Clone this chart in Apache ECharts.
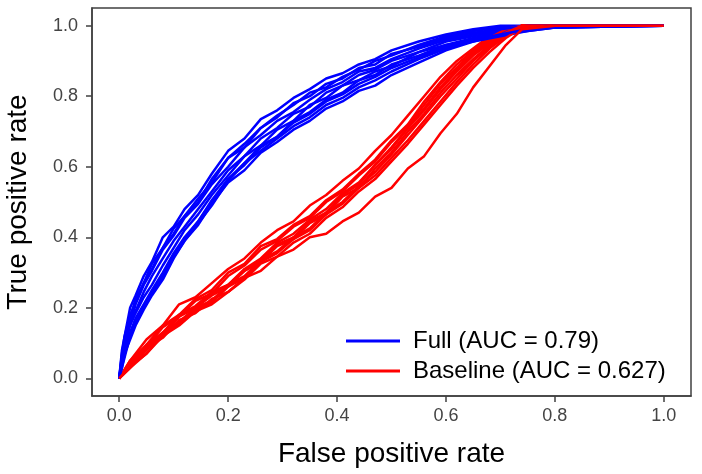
<!DOCTYPE html>
<html>
<head>
<meta charset="utf-8">
<script src="https://cdn.jsdelivr.net/npm/echarts@6/dist/echarts.min.js"></script>
<style>
html,body{margin:0;padding:0;background:#fff;}
#chart{width:702px;height:474px;}
</style>
</head>
<body>
<div id="chart"></div>
<script>
// ---- data ----
var tickValues = [0, 0.2, 0.4, 0.6, 0.8, 1.0];
var fullName = 'Full (AUC = 0.79)';
var baseName = 'Baseline (AUC = 0.627)';

var blueFpr = [0, 0.005, 0.01, 0.02, 0.03, 0.045, 0.06, 0.08, 0.1, 0.12, 0.145, 0.17, 0.2, 0.23, 0.26, 0.29, 0.32, 0.35, 0.38, 0.41, 0.44, 0.47, 0.5, 0.55, 0.6, 0.65, 0.7, 0.75, 0.8, 1.0];
var blueRuns = [
  [0, .08, .12, .20, .235, .29, .33, .40, .43, .48, .52, .58, .645, .68, .735, .76, .795, .82, .85, .865, .89, .905, .93, .955, .975, .99, 1.0, 1.0, 1.0, 1.0],
  [0, .05, .115, .17, .225, .27, .325, .37, .425, .46, .51, .555, .625, .665, .71, .745, .775, .81, .825, .855, .875, .90, .915, .945, .97, .985, .995, 1.0, 1.0, 1.0],
  [0, .065, .09, .155, .21, .265, .305, .365, .405, .455, .495, .55, .60, .655, .69, .73, .755, .79, .82, .84, .87, .88, .905, .935, .96, .975, .99, .995, 1.0, 1.0],
  [0, .05, .10, .16, .19, .245, .29, .34, .39, .43, .48, .53, .59, .63, .68, .71, .75, .77, .81, .83, .86, .875, .90, .925, .955, .97, .985, .995, 1.0, 1.0],
  [0, .055, .095, .15, .185, .23, .265, .32, .37, .42, .465, .52, .575, .63, .66, .705, .73, .775, .795, .83, .845, .87, .885, .925, .945, .965, .98, .99, .995, 1.0],
  [0, .03, .06, .12, .165, .205, .245, .29, .345, .39, .44, .49, .56, .61, .66, .685, .73, .755, .79, .81, .845, .86, .89, .915, .945, .96, .98, .99, .995, 1.0],
  [0, .04, .08, .13, .17, .21, .25, .30, .355, .40, .445, .50, .565, .605, .655, .685, .725, .75, .785, .805, .835, .855, .88, .91, .94, .955, .975, .985, .995, 1.0],
  [0, .07, .12, .18, .215, .27, .31, .37, .41, .46, .50, .565, .625, .655, .71, .74, .78, .80, .835, .85, .88, .89, .92, .94, .965, .98, .99, 1.0, 1.0, 1.0],
  [0, .03, .07, .11, .15, .195, .235, .28, .34, .39, .435, .495, .555, .59, .64, .67, .705, .73, .765, .785, .815, .83, .86, .895, .93, .955, .97, .985, .995, 1.0],
  [0, .04, .07, .12, .155, .20, .24, .285, .345, .395, .445, .505, .565, .61, .645, .68, .715, .74, .775, .795, .825, .845, .87, .905, .935, .96, .975, .99, 1.0, 1.0]
];

var redFpr = [0, 0.02, 0.05, 0.08, 0.11, 0.14, 0.17, 0.2, 0.23, 0.26, 0.29, 0.32, 0.35, 0.38, 0.41, 0.44, 0.47, 0.5, 0.53, 0.56, 0.59, 0.62, 0.65, 0.68, 0.71, 0.74, 0.8, 0.9, 1.0];
var redRuns = [
  [0, .05, .11, .15, .21, .23, .27, .31, .34, .385, .42, .445, .49, .52, .56, .595, .645, .69, .745, .80, .855, .90, .935, .97, .99, 1.0, 1.0, 1.0, 1.0],
  [0, .045, .09, .145, .175, .22, .24, .29, .32, .365, .39, .43, .455, .50, .53, .575, .615, .67, .715, .775, .835, .88, .925, .96, .985, 1.0, 1.0, 1.0, 1.0],
  [0, .04, .09, .125, .18, .20, .24, .265, .31, .34, .385, .41, .45, .48, .525, .555, .605, .655, .71, .76, .82, .87, .915, .95, .98, 1.0, 1.0, 1.0, 1.0],
  [0, .03, .08, .13, .16, .20, .22, .265, .29, .335, .36, .40, .425, .47, .50, .545, .585, .635, .69, .745, .80, .85, .90, .94, .975, 1.0, 1.0, 1.0, 1.0],
  [0, .04, .095, .13, .18, .205, .245, .265, .305, .33, .375, .395, .44, .465, .515, .54, .595, .64, .70, .75, .81, .86, .905, .945, .975, .995, 1.0, 1.0, 1.0],
  [0, .035, .07, .125, .155, .195, .215, .26, .285, .33, .355, .395, .42, .465, .495, .54, .575, .625, .675, .73, .785, .84, .89, .935, .97, 1.0, 1.0, 1.0, 1.0],
  [0, .05, .095, .15, .18, .225, .25, .30, .325, .375, .395, .435, .46, .505, .535, .58, .62, .675, .72, .785, .84, .89, .93, .965, .99, 1.0, 1.0, 1.0, 1.0],
  [0, .04, .085, .12, .175, .20, .235, .26, .305, .335, .38, .40, .445, .47, .52, .55, .605, .65, .71, .765, .825, .875, .92, .955, .98, 1.0, 1.0, 1.0, 1.0],
  [0, .03, .07, .12, .15, .19, .21, .245, .28, .325, .345, .385, .41, .455, .485, .53, .565, .615, .665, .72, .775, .83, .88, .925, .965, .995, 1.0, 1.0, 1.0],
  [0, .035, .085, .115, .165, .185, .225, .245, .285, .305, .345, .365, .40, .41, .445, .47, .515, .54, .595, .63, .695, .75, .825, .885, .945, .99, 1.0, 1.0, 1.0]
];

// ---- chart ----
function pairs(xs, ys) {
  return xs.map(function (x, i) { return [x, ys[i]]; });
}
var series = [];
for (var k = 0; k < blueRuns.length; k++) {
  series.push({
    name: fullName, type: 'line', showSymbol: false, symbol: 'none', smooth: false,
    data: pairs(blueFpr, blueRuns[k]),
    lineStyle: { color: '#0000ff', width: 2.5 }, itemStyle: { color: '#0000ff' },
    emphasis: { disabled: true }
  });
  series.push({
    name: baseName, type: 'line', showSymbol: false, symbol: 'none', smooth: false,
    data: pairs(redFpr, redRuns[k]),
    lineStyle: { color: '#ff0000', width: 2.5 }, itemStyle: { color: '#ff0000' },
    emphasis: { disabled: true }
  });
}

var chart = echarts.init(document.getElementById('chart'), null, { renderer: 'canvas' });
var axisFont = 'Liberation Sans, Arial, sans-serif';
chart.setOption({
  animation: false,
  backgroundColor: '#ffffff',
  grid: { left: 92, right: 11, top: 8, bottom: 78, outerBoundsMode: 'none', containLabel: false,
    show: true, borderColor: '#404040', borderWidth: 1.5, backgroundColor: 'transparent' },
  legend: {
    data: [fullName, baseName],
    orient: 'vertical',
    left: 341, top: 324,
    icon: 'rect', itemWidth: 54, itemHeight: 3, itemGap: 6,
    textStyle: { fontFamily: axisFont, fontSize: 24, color: '#000', lineHeight: 24, padding: [0, 0, 0, 8] }
  },
  xAxis: {
    type: 'value', min: -0.05, max: 1.05,
    name: 'False positive rate', nameLocation: 'middle', nameGap: 44,
    nameTextStyle: { fontFamily: axisFont, fontSize: 28, color: '#000' },
    splitLine: { show: false },
    axisLine: { show: true, onZero: false, lineStyle: { color: '#404040', width: 1.5 } },
    axisTick: { show: true, length: 6, customValues: tickValues, lineStyle: { color: '#404040', width: 1.5 } },
    axisLabel: { customValues: tickValues, margin: 11, fontFamily: axisFont, fontSize: 18, color: '#444',
      formatter: function (v) { return v.toFixed(1); } }
  },
  yAxis: {
    type: 'value', min: -0.05, max: 1.05,
    name: 'True positive rate', nameLocation: 'middle', nameGap: 60, nameRotate: 90,
    nameTextStyle: { fontFamily: axisFont, fontSize: 28, color: '#000' },
    splitLine: { show: false },
    axisLine: { show: true, onZero: false, lineStyle: { color: '#404040', width: 1.5 } },
    axisTick: { show: true, length: 6, customValues: tickValues, lineStyle: { color: '#404040', width: 1.5 } },
    axisLabel: { customValues: tickValues, margin: 14, fontFamily: axisFont, fontSize: 18, color: '#444',
      formatter: function (v) { return v.toFixed(1); } }
  },
  series: series
});
</script>
</body>
</html>
